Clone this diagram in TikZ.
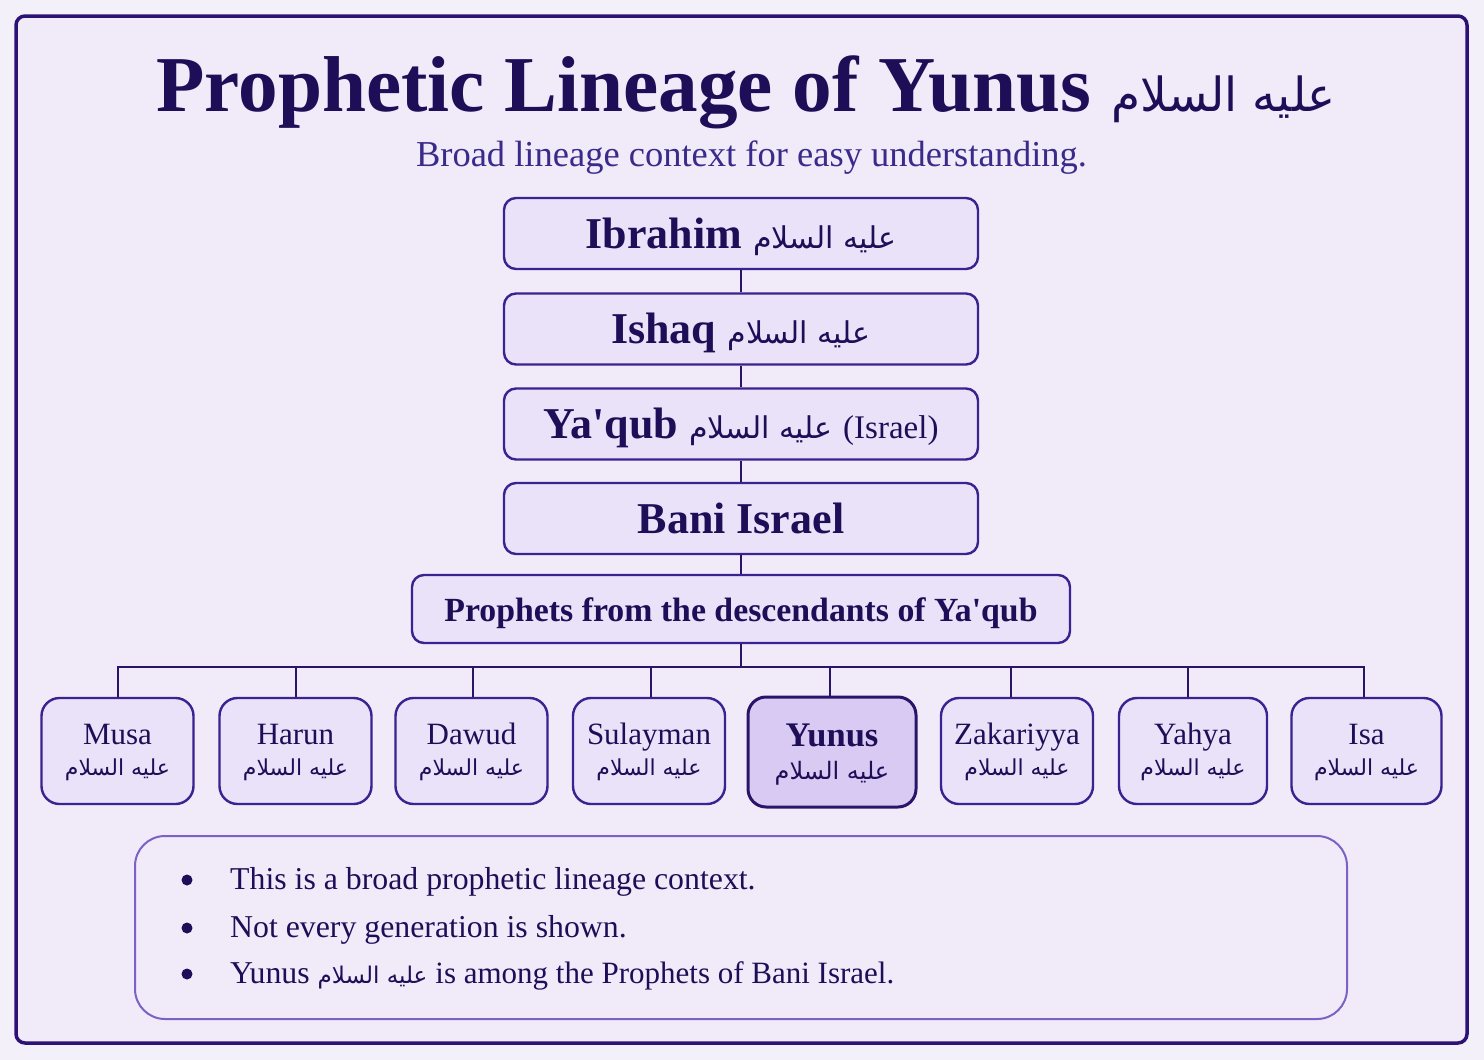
\documentclass[tikz,border=0pt]{standalone}
\usepackage{fontspec}
\setmainfont{Liberation Serif}[Ligatures=TeXOff]
\newfontfamily\arabicfont[Script=Arabic]{DejaVu Sans}
\TeXXeTstate=1
\newcommand\salam[1]{{\arabicfont\mdseries\fontsize{#1}{#1}\selectfont\beginR عليه السلام\endR}}
\newcommand\fsz[1]{\fontsize{#1}{#1}\selectfont}
\definecolor{pagebg}{HTML}{F4F0FA}
\definecolor{innerbg}{HTML}{F0EAF9}
\definecolor{boxfill}{HTML}{EAE2F8}
\definecolor{yunusfill}{HTML}{D9CAF4}
\definecolor{boxline}{HTML}{3A2290}
\definecolor{connline}{HTML}{2A1468}
\definecolor{frameline}{HTML}{2C1274}
\definecolor{ink}{HTML}{1E0E58}
\definecolor{subink}{HTML}{3A2A8A}
\definecolor{noteline}{HTML}{7B62C4}
\begin{document}
\begin{tikzpicture}[x=1pt,y=-1pt,
  topbox/.style={draw=boxline, line width=2.4pt, fill=boxfill, rounded corners=12pt,
    minimum width=474pt, minimum height=71pt, inner sep=0pt, text=ink,
    text height=29pt, text depth=0pt},
  kidbox/.style={draw=boxline, line width=2.4pt, fill=boxfill, rounded corners=18pt,
    minimum width=152pt, minimum height=106pt, inner sep=0pt},
  conn/.style={draw=connline, line width=2.8pt},
  txt/.style={inner sep=0pt, text=ink},
  bulletdot/.style={circle, fill=ink, inner sep=0pt, minimum size=11pt},
]
\fill[pagebg] (0,0) rectangle (1484,1060);
\useasboundingbox (0,0) rectangle (1484,1060);
\draw[frameline, line width=3.5pt, fill=innerbg, rounded corners=9pt] (16,16) rectangle (1467,1043);

% title
\node[txt, anchor=base] (title) at (746,111) {\fsz{79.2}\bfseries Prophetic Lineage of Yunus \salam{47}};
\node[inner sep=0pt, text=subink, anchor=base] (sub) at (751.5,166) {\fsz{36.5}Broad lineage context for easy understanding.};

% chain
\node[topbox] (ibr) at (741,233.5) {\fsz{44}\bfseries Ibrahim \salam{30}};
\node[topbox] (ish) at (741,329) {\fsz{44}\bfseries Ishaq \salam{30}};
\node[topbox] (yaq) at (741,424) {\fsz{44}\bfseries Ya'qub \salam{30} \mdseries\fsz{33}(Israel)};
\node[topbox] (bani) at (741,518.5) {\fsz{44}\bfseries Bani Israel};
\node[topbox, minimum width=658pt, minimum height=68pt, text height=24pt] (proph) at (741,609)
  {\fsz{33.8}\bfseries Prophets from the descendants of Ya'qub};

\draw[conn] (ibr.south) -- (ish.north);
\draw[conn] (ish.south) -- (yaq.north);
\draw[conn] (yaq.south) -- (bani.north);
\draw[conn] (bani.south) -- (proph.north);

% bus
\coordinate (busL) at (118,667);
\coordinate (busR) at (1364,667);
\coordinate (busM) at (741,667);
\draw[conn] (proph.south) -- (busM);
\draw[conn, line cap=rect] (busL) -- (busR);

% children
\node[kidbox] (musa) at (117.5,751) {};
\node[kidbox] (harun) at (295.5,751) {};
\node[kidbox] (dawud) at (471.5,751) {};
\node[kidbox] (sulayman) at (649,751) {};
\node[kidbox, minimum width=168pt, minimum height=110pt, fill=yunusfill, line width=3pt, draw=connline] (yunus) at (832,752) {};
\node[kidbox] (zakariyya) at (1017,751) {};
\node[kidbox, minimum width=148pt] (yahya) at (1193,751) {};
\node[kidbox, minimum width=150pt] (isa) at (1366.5,751) {};

\foreach \nm/\dx in {musa/118,harun/296,dawud/473,sulayman/651,yunus/830,zakariyya/1011,yahya/1188,isa/1364}{
  \coordinate (d\nm) at (\dx,667);
  \draw[conn] (d\nm) -- (d\nm |- \nm.north);
}

\foreach \nm/\lab in {musa/Musa,harun/Harun,dawud/Dawud,sulayman/Sulayman,zakariyya/Zakariyya,yahya/Yahya,isa/Isa}{
  \node[txt, anchor=base] (\nm N) at ([yshift=7pt]\nm.center) {\fsz{31}\lab};
  \node[txt, anchor=base] (\nm A) at ([yshift=-24pt]\nm.center) {\salam{22}};
}
\node[txt, anchor=base] (yunusN) at ([yshift=6pt]yunus.center) {\fsz{34.5}\bfseries Yunus};
\node[txt, anchor=base] (yunusA) at ([yshift=-27pt]yunus.center) {\salam{24}};

% note box
\node[draw=noteline, line width=2pt, rounded corners=30pt, fill=innerbg,
  minimum width=1212pt, minimum height=183pt, inner sep=0pt] (note) at (741,927.5) {};
\node[bulletdot] (b1) at (187,880) {};
\node[bulletdot] (b2) at (187,928) {};
\node[bulletdot] (b3) at (187,974) {};
\node[txt, anchor=base west] (n1) at (230,889) {\fsz{31.8}This is a broad prophetic lineage context.};
\node[txt, anchor=base west] (n2) at (230,937) {\fsz{31.8}Not every generation is shown.};
\node[txt, anchor=base west] (n3) at (230,983) {\fsz{31.8}Yunus \salam{23} \fsz{31}is among the Prophets of Bani Israel.};
\end{tikzpicture}
\end{document}
